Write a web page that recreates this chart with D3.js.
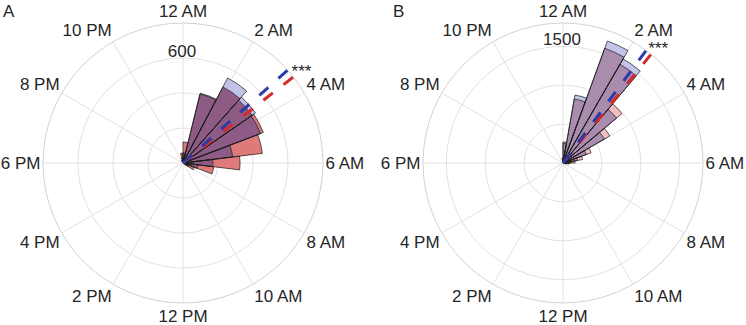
<!DOCTYPE html>
<html><head><meta charset="utf-8">
<script src="https://cdn.jsdelivr.net/npm/d3@7"></script>
<style>
body{margin:0;background:#fff}
svg{display:block}
text{font-family:"Liberation Sans",Arial,Helvetica,sans-serif;fill:#262626}
</style>
</head><body>
<svg id="chart" width="746" height="325"></svg>
<script>
// ---------- data ----------
const hourTicks  = [0,2,4,6,8,10,12,14,16,18,20,22];
const hourLabels = ["12 AM","2 AM","4 AM","6 AM","8 AM","10 AM","12 PM","2 PM","4 PM","6 PM","8 PM","10 PM"];

// Panel A (26 bins over 24 h)
const binCountA   = 26;
const binIndexA   = [24,25,0,1,2,3,4,5,6,7,8];
const countsRedA  = [17,57,120,406,491,480,491,457,326,177,69];
const countsBlueA = [17,29,57,411,549,503,474,286,171,86,34];
const meanHoursA  = [3.23,3.47];          // blue, red
const rTicksA     = [200,400,600];
const rMaxA       = 800;
const rLabelA     = "600";

// Panel B (36 bins over 24 h)
const binCountB   = 36;
const binIndexB   = [35,0,1,2,3,4,5,6,7,8,9,10];
const countsRedB  = [60,270,836,1570,1465,990,695,385,255,155,80,40];
const countsBlueB = [60,257,887,1670,1545,900,615,320,190,105,50,25];
const meanHoursB  = [2.43,2.6];           // blue, red
const rTicksB     = [500,1000,1500];
const rMaxB       = 1800;
const rLabelB     = "1500";

const sigText = "***";

// ---------- drawing ----------
const svg = d3.select("#chart");
const R = 140;
const FS = 17;
const angle = d3.scaleLinear().domain([0,24]).range([0,2*Math.PI]);
const sgn = v => Math.abs(v) < 0.1 ? 0 : Math.sign(v);

function drawPanel(cfg){
  const g = svg.append("g").attr("transform",`translate(${cfg.cx},${cfg.cy})`);
  const r = d3.scaleLinear().domain([0,cfg.rMax]).range([0,R]);

  // grid rings
  g.selectAll("circle.ring").data(cfg.rTicks).join("circle")
    .attr("r",d=>r(d)).attr("fill","none").attr("stroke","#e2e2e2").attr("stroke-width",1);
  g.append("circle").attr("r",r(cfg.rMax)).attr("fill","none").attr("stroke","#d2d2d2").attr("stroke-width",1);
  // spokes
  g.selectAll("line.spoke").data(hourTicks).join("line")
    .attr("x1",0).attr("y1",0)
    .attr("x2",h=>r(cfg.rMax)*Math.sin(angle(h)))
    .attr("y2",h=>-r(cfg.rMax)*Math.cos(angle(h)))
    .attr("stroke","#e2e2e2").attr("stroke-width",1);

  const bw = 24/cfg.binCount;
  const bins = cfg.idx.map((b,i)=>({a0:angle(b*bw),a1:angle((b+1)*bw),red:cfg.red[i],blue:cfg.blue[i]}));
  const arcFor = key => d3.arc().innerRadius(0).outerRadius(d=>r(d[key])).startAngle(d=>d.a0).endAngle(d=>d.a1);
  const arcMin = d3.arc().innerRadius(0).outerRadius(d=>r(Math.min(d.red,d.blue))).startAngle(d=>d.a0).endAngle(d=>d.a1);

  g.selectAll("path.rf").data(bins).join("path").attr("d",arcFor("red")).attr("fill",cfg.cRed);
  g.selectAll("path.bf").data(bins).join("path").attr("d",arcFor("blue")).attr("fill",cfg.cBlue);
  g.selectAll("path.of").data(bins).join("path").attr("d",arcMin).attr("fill",cfg.cBoth);
  g.selectAll("path.ro").data(bins).join("path").attr("d",arcFor("red")).attr("fill","none").attr("stroke","#1a1a1a").attr("stroke-width",0.7);
  g.selectAll("path.bo").data(bins).join("path").attr("d",arcFor("blue")).attr("fill","none").attr("stroke","#1a1a1a").attr("stroke-width",0.7);

  // mean direction lines (red first, blue on top)
  const lines = [{h:cfg.mean[1],c:"#d42a2a"},{h:cfg.mean[0],c:"#2a3aa8"}];
  g.selectAll("line.mean").data(lines).join("line")
    .attr("x1",0).attr("y1",0)
    .attr("x2",d=>r(cfg.rMax)*Math.sin(angle(d.h)))
    .attr("y2",d=>-r(cfg.rMax)*Math.cos(angle(d.h)))
    .attr("stroke",d=>d.c).attr("stroke-width",3).attr("stroke-dasharray","12 13.5");

  // significance
  const sa = angle(d3.mean(cfg.mean)) + 0.0175;
  const sr = R + 12;
  g.append("text").text(sigText).attr("x",sr*Math.sin(sa)).attr("y",-sr*Math.cos(sa)+9.6)
    .attr("text-anchor","middle").attr("font-size",FS);

  // radial tick label
  g.append("text").text(cfg.rLabel).attr("x",-1).attr("y",-r(+cfg.rLabel)-1)
    .attr("text-anchor","middle").attr("font-size",FS);

  // hour labels
  const cap = 0.716*FS, px = 2.5, py = 6.5;
  hourTicks.forEach((h,i)=>{
    const t = angle(h), s = Math.sin(t), c = Math.cos(t);
    const txt = g.append("text").text(hourLabels[i]).attr("font-size",FS).attr("text-anchor","middle");
    const w = txt.node().getComputedTextLength();
    const cx = (R+px)*s + sgn(s)*w/2;
    const cy = -(R+py)*c - sgn(c)*cap/2;
    txt.attr("x",cx).attr("y",cy+cap/2);
  });

  svg.append("text").text(cfg.name).attr("x",cfg.lx).attr("y",17).attr("font-size",FS);
}

drawPanel({name:"A",lx:3,cx:183,cy:163,rMax:rMaxA,rTicks:rTicksA,rLabel:rLabelA,binCount:binCountA,
  idx:binIndexA,red:countsRedA,blue:countsBlueA,mean:meanHoursA,
  cRed:"#df7a7a",cBlue:"#c0c2e6",cBoth:"#8d5b86"});
drawPanel({name:"B",lx:393,cx:563,cy:163,rMax:rMaxB,rTicks:rTicksB,rLabel:rLabelB,binCount:binCountB,
  idx:binIndexB,red:countsRedB,blue:countsBlueB,mean:meanHoursB,
  cRed:"#f3c0c0",cBlue:"#c3c4ea",cBoth:"#a98cae"});
</script>
</body></html>
